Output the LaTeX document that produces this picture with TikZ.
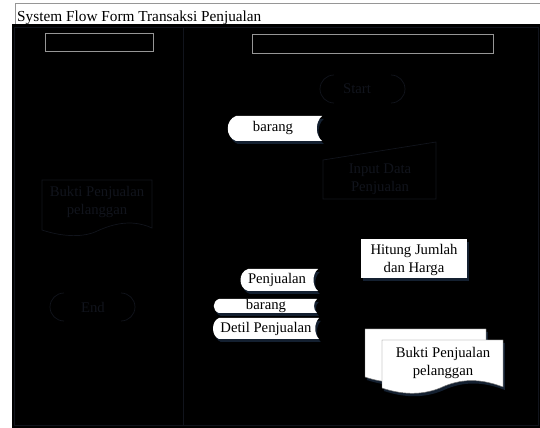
\documentclass[tikz,border=0pt]{standalone}
\usepackage{fontspec}
\setmainfont{Liberation Serif}
\definecolor{faint}{RGB}{17,20,28}
\definecolor{rule}{RGB}{150,150,150}
\definecolor{halo}{RGB}{20,32,48}

\begin{document}
\begin{tikzpicture}[x=0.85pt, y=-0.85pt,
  lbl/.style   = {font=\fontsize{12.5}{15}\selectfont, inner sep=0pt, align=center},
  dim/.style   = {lbl, text=faint},
  sheet/.style = {fill=white, preaction={fill=halo, transform canvas={shift={(1.5pt,-2.5pt)}}}},
  paper/.style = {sheet, draw=black!55, thin},
  ghost/.style = {draw=faint, semithick},
  lane/.style  = {draw=faint, thin},
  head/.style  = {draw=rule, thin},
]
  \useasboundingbox (0,0) rectangle (540,428);

  % title strip above the lanes
  \draw[rule] (15,24) -- (15,3) -- (540,3);
  \node[lbl, font=\fontsize{13}{15}\selectfont, anchor=base west] (title) at (17,22)
    {System Flow Form Transaksi Penjualan};

  % the two swimlanes, black with their headers
  \fill[black] (12,24) rectangle (540,428);
  \draw[lane] (14,27) rectangle (183,425);
  \draw[lane] (183,27) rectangle (538,425);
  \draw[head] (45,33) rectangle (153,51);
  \draw[head] (252,34) rectangle (493,53);

  % left lane: hardly visible symbols
  \node[dim] (bukti0) at (97,202) {Bukti Penjualan\\pelanggan};
  \draw[ghost] (42,180) -- (152,180) -- (152,228)
    .. controls (130,218) and (110,225) .. (95,232)
    .. controls (80,238) and (60,236) .. (42,230) -- cycle;
  \node[dim] (stop) at (93,307) {End};
  \draw[ghost] (64,293) arc[start angle=270, end angle=90, radius=14];
  \draw[ghost] (121,293) arc[start angle=270, end angle=450, radius=14];

  % right lane: start and manual input
  \node[dim] (start) at (357,89) {Start};
  \draw[ghost] (334,75) arc[start angle=270, end angle=90, radius=14];
  \draw[ghost] (391,75) arc[start angle=270, end angle=450, radius=14];
  \draw[ghost] (323,160) -- (436,142) -- (436,199) -- (323,199) -- cycle;
  \node[dim] (input) at (380,179) {Input Data\\Penjualan};

  % stored data
  \fill[sheet] (236,116) -- (322,116) .. controls (315,122) and (315,135) .. (322,141)
    -- (236,141) .. controls (225,137) and (225,120) .. (236,116) -- cycle;
  \node[lbl] (barang) at (273,128) {barang};
  \fill[sheet] (248,269) -- (318,269) .. controls (312,274) and (312,286) .. (318,291)
    -- (248,291) .. controls (238,288) and (238,272) .. (248,269) -- cycle;
  \node[lbl] (penjualan) at (277,280) {Penjualan};
  \fill[sheet] (219,299) -- (317,299) .. controls (313,302) and (313,310) .. (317,313)
    -- (219,313) .. controls (212,311) and (212,301) .. (219,299) -- cycle;
  \node[lbl] (barang2) at (266,306) {barang};
  \fill[sheet] (219,318) -- (319,318) .. controls (314,323) and (314,334) .. (319,339)
    -- (219,339) .. controls (211,336) and (211,321) .. (219,318) -- cycle;
  \node[lbl] (detil) at (266,329) {Detil Penjualan};

  % process
  \fill[sheet] (361,239) rectangle (467,278);
  \node[lbl] (hitung) at (414,260) {Hitung Jumlah\\dan Harga};

  % two copies of the receipt
  \draw[paper] (365,329) -- (486,329) -- (486,376)
    .. controls (458,365) and (438,370) .. (423,377)
    .. controls (403,385) and (383,383) .. (365,377) -- cycle;
  \draw[paper] (382,340) -- (503,340) -- (503,387)
    .. controls (475,376) and (455,381) .. (440,388)
    .. controls (420,396) and (400,394) .. (382,388) -- cycle;
  \node[lbl] (bukti) at (443,363) {Bukti Penjualan\\pelanggan};
\end{tikzpicture}
\end{document}
